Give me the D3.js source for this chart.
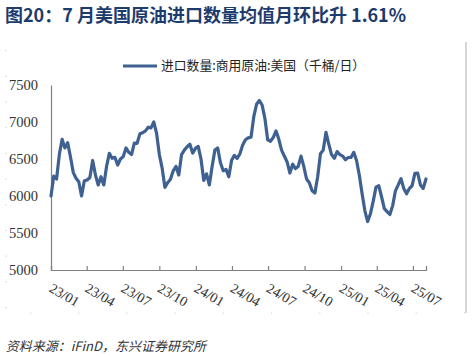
<!DOCTYPE html>
<html><head><meta charset="utf-8">
<script src="https://cdn.jsdelivr.net/npm/d3@7/dist/d3.min.js"></script>
<style>
html,body{margin:0;padding:0;background:#fff;}
svg{display:block;}
</style></head>
<body>
<svg id="c" width="472" height="357"></svg>
<script>
const title = "图20：7 月美国原油进口数量均值月环比升 1.61%";
const seriesName = "进口数量:商用原油:美国（千桶/日）";
const source = "资料来源：iFinD，东兴证券研究所";
const firstWeek = "2023-01-01";
const values = [
  6000,6270,6230,6560,6766,6650,6720,6530,6320,6240,
  6193,6000,6207,6216,6250,6480,6284,6149,6260,6150,
  6400,6577,6510,6523,6419,6500,6532,6650,6590,6560,
  6716,6712,6840,6855,6880,6930,6920,7000,6850,6560,
  6380,6117,6180,6225,6340,6400,6284,6560,6620,6666,
  6700,6580,6644,6670,6500,6210,6300,6150,6400,6620,
  6650,6450,6340,6360,6260,6480,6550,6509,6570,6690,
  6760,6785,6795,7072,7240,7290,7230,7050,6760,6740,
  6790,6880,6770,6620,6540,6460,6310,6430,6370,6400,
  6540,6400,6230,6180,6070,6040,6260,6570,6620,6860,
  6700,6560,6510,6600,6560,6540,6490,6520,6520,6590,
  6480,6280,6030,5800,5655,5760,5930,6120,6140,5990,
  5830,5790,5750,5870,6070,6150,6235,6100,6030,6100,
  6140,6306,6310,6150,6103,6230
];
const yTicks = [5000,5500,6000,6500,7000,7500];
const xTickLabels = ["23/01","23/04","23/07","23/10","24/01","24/04","24/07","24/10","25/01","25/04","25/07"];

const parse = d3.timeParse("%Y-%m-%d");
const t0 = parse(firstWeek);
const data = values.map((v,i)=>({date:d3.timeDay.offset(t0, i*7), value:v}));
const tickDates = xTickLabels.map(s=>parse("20"+s.slice(0,2)+"-"+s.slice(3)+"-01"));

const svg = d3.select("#c");
const L=51, R=426, T=85, B=270;
const x = d3.scaleTime().domain([t0, data[data.length-1].date]).range([L,R]);
const y = d3.scaleLinear().domain([5000,7500]).range([B,T]);
const serif = "Liberation Serif";

// frame remnants
svg.append("line").attr("x1",466).attr("x2",466).attr("y1",42).attr("y2",313)
  .attr("stroke","#d6d6d6").attr("stroke-width",2);
svg.append("line").attr("x1",6).attr("x2",6).attr("y1",50).attr("y2",313)
  .attr("stroke","#d0d0d0").attr("stroke-width",1.2).attr("stroke-dasharray","1.2,24.5");
svg.append("line").attr("x1",30).attr("x2",466).attr("y1",313).attr("y2",313)
  .attr("stroke","#d0d0d0").attr("stroke-width",1.2).attr("stroke-dasharray","1.2,47");

// title
svg.append("text").attr("x",5).attr("y",22).text(title)
  .style("font-family","'Noto Sans CJK SC','Noto Sans',sans-serif").style("font-weight","bold")
  .style("font-size","18px").attr("fill","#1d3b6c");

// legend
svg.append("line").attr("x1",123).attr("x2",157).attr("y1",66).attr("y2",66)
  .attr("stroke","#3f6192").attr("stroke-width",3.2);
svg.append("text").attr("x",161).attr("y",66).attr("dy","0.35em").text(seriesName)
  .style("font-family","'Noto Sans CJK SC',sans-serif").style("font-size","12.8px").attr("fill","#222");

// y axis
const yAxis = d3.axisLeft(y).tickValues(yTicks).tickSize(0).tickPadding(13).tickFormat(d3.format("d"));
const gy = svg.append("g").attr("transform",`translate(${L},0)`).call(yAxis);
gy.select(".domain").attr("stroke","#808080").attr("stroke-width",1.2);
gy.selectAll("text").style("font-family",serif).style("font-size","14.5px").attr("fill","#333");

// x axis
const xAxis = d3.axisBottom(x).tickValues(tickDates).tickSize(-4).tickFormat((d,i)=>xTickLabels[i]);
const gx = svg.append("g").attr("transform",`translate(0,${B})`).call(xAxis);
gx.select(".domain").attr("stroke","#808080").attr("stroke-width",1.2);
gx.selectAll(".tick line").attr("stroke","#808080").attr("stroke-width",1.2);
gx.selectAll(".tick text")
  .style("font-family",serif).style("font-size","14px").attr("fill","#333")
  .attr("text-anchor","start").attr("x",0).attr("y",0).attr("dy","0.75em")
  .attr("transform","translate(2,12) rotate(30)");

// line
const line = d3.line().x(d=>x(d.date)).y(d=>y(d.value)).curve(d3.curveLinear);
svg.append("path").datum(data).attr("d",line).attr("fill","none")
  .attr("stroke","#3f6192").attr("stroke-width",3.2).attr("stroke-linejoin","round").attr("stroke-linecap","round");

// source (oblique)
svg.append("text").attr("x",0).attr("y",0).attr("dy","0.35em").text(source)
  .attr("transform","translate(7,346) skewX(-14)")
  .style("font-family","'Noto Sans CJK SC',sans-serif")
  .style("font-size","13px").attr("fill","#333");
</script>
</body></html>
